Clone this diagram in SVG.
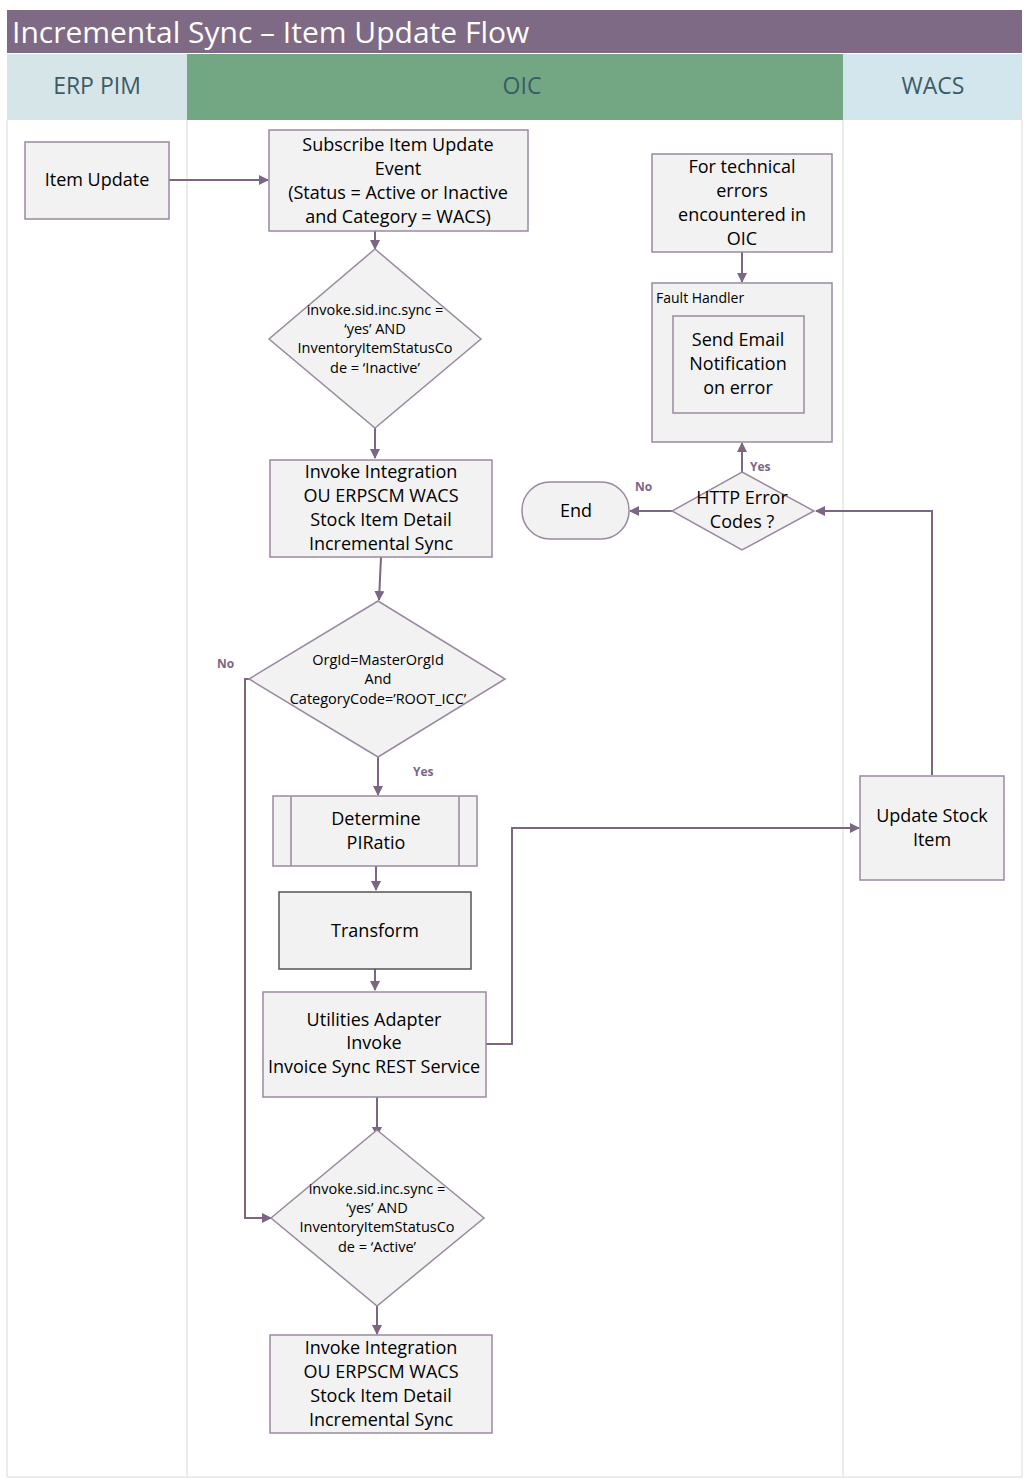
<svg xmlns="http://www.w3.org/2000/svg" width="1030" height="1479" viewBox="0 0 1030 1479">
<defs>
<marker id="ah" markerWidth="10" markerHeight="10" refX="9" refY="5" orient="auto" markerUnits="userSpaceOnUse"><path d="M0,0 L10,5 L0,10 z" fill="#7b6684"/></marker>
<style>
.n{fill:#f2f2f2;stroke:#9a8aa0;stroke-width:1.5}
.t{font-family:"Open Sans","Liberation Sans",sans-serif;font-size:18px;fill:#000;text-anchor:middle}
.s{font-family:"Open Sans","Liberation Sans",sans-serif;font-size:14.5px;fill:#000;text-anchor:middle}
.lb{font-family:"Open Sans","Liberation Sans",sans-serif;font-size:12px;fill:#7b6684;font-weight:bold}
.c{fill:none;stroke:#7b6684;stroke-width:2;marker-end:url(#ah)}
.h{font-family:"Open Sans","Liberation Sans",sans-serif;font-size:23px;fill:#3b5b66;text-anchor:middle}
</style>
</defs>
<rect width="1030" height="1479" fill="#fff"/>
<g id="lanes">
<rect x="7" y="10" width="1015" height="43" fill="#7e6a85"/>
<text x="12" y="43" font-family="Open Sans,Liberation Sans,sans-serif" font-size="30" fill="#fff">Incremental Sync – Item Update Flow</text>
<rect x="7" y="54" width="180" height="66" fill="#d6e5e7"/>
<rect x="187" y="54" width="656" height="66" fill="#73a783"/>
<rect x="843" y="54" width="179" height="66" fill="#d3e6ee"/>
<text class="h" x="97" y="94">ERP PIM</text>
<text class="h" x="522" y="94" fill="#2d3e33">OIC</text>
<text class="h" x="933" y="94">WACS</text>
<path d="M7,120 V1477 H1022 V120 M187,120 V1477 M843,120 V1477" fill="none" stroke="#d9d9d9" stroke-width="1"/>
</g>
<g id="connectors">
<path class="c" d="M169,180 H268"/>
<path class="c" d="M375,231 V249"/>
<path class="c" d="M375,428 V458"/>
<path class="c" d="M381,557 L379,600"/>
<path class="c" d="M378,757 V795"/>
<path class="c" d="M376,866 V890"/>
<path class="c" d="M375,969 V990"/>
<path class="c" d="M377,1097 V1136"/>
<path class="c" d="M377,1306 V1334"/>
<path class="c" d="M249,679 H245 V1218 H271"/>
<path class="c" d="M486,1044 H512 V828 H859"/>
<path class="c" d="M932,775 V511 H816"/>
<path class="c" d="M672,511 H630"/>
<path class="c" d="M742,472 V443"/>
<path class="c" d="M742,252 V282"/>
<text class="lb" x="217" y="668">No</text>
<text class="lb" x="413" y="776">Yes</text>
<text class="lb" x="635" y="491">No</text>
<text class="lb" x="750" y="471">Yes</text>
</g>
<g id="item-update"><rect class="n" x="25" y="142" width="144" height="77"/><text class="t" x="97" y="186">Item Update</text></g>
<g id="subscribe"><rect class="n" x="269" y="130" width="259" height="101"/>
<text class="t" x="398" y="151">Subscribe Item Update</text><text class="t" x="398" y="175">Event</text><text class="t" x="398" y="199">(Status = Active or Inactive</text><text class="t" x="398" y="223">and Category = WACS)</text></g>
<g id="dec1"><polygon class="n" points="375,249 481,339 375,428 269,339"/>
<text class="s" x="375" y="315">invoke.sid.inc.sync =</text><text class="s" x="375" y="334">‘yes’ AND</text><text class="s" x="375" y="353">InventoryItemStatusCo</text><text class="s" x="375" y="373">de = ‘Inactive’</text></g>
<g id="invoke1"><rect class="n" x="270" y="460" width="222" height="97"/>
<text class="t" x="381" y="478">Invoke Integration</text><text class="t" x="381" y="502">OU ERPSCM WACS</text><text class="t" x="381" y="526">Stock Item Detail</text><text class="t" x="381" y="550">Incremental Sync</text></g>
<g id="dec2"><polygon class="n" points="378,601 505,679 378,757 249,679"/>
<text class="s" x="378" y="665">OrgId=MasterOrgId</text><text class="s" x="378" y="684">And</text><text class="s" x="378" y="704">CategoryCode=’ROOT_ICC’</text></g>
<g id="determine"><rect class="n" x="273" y="796" width="204" height="70"/><path d="M291,796 V866 M459,796 V866" stroke="#9a8aa0" stroke-width="1.5"/>
<text class="t" x="376" y="825">Determine</text><text class="t" x="376" y="849">PIRatio</text></g>
<g id="transform"><rect x="279" y="892" width="192" height="77" fill="#f2f2f2" stroke="#555" stroke-width="1.5"/><text class="t" x="375" y="937">Transform</text></g>
<g id="utilities"><rect class="n" x="263" y="992" width="223" height="105"/>
<text class="t" x="374" y="1026">Utilities Adapter</text><text class="t" x="374" y="1049" font-size="16">Invoke</text><text class="t" x="374" y="1073" font-size="16">Invoice Sync REST Service</text></g>
<g id="dec3"><polygon class="n" points="377,1130 484,1218 377,1306 271,1218"/>
<text class="s" x="377" y="1194">invoke.sid.inc.sync =</text><text class="s" x="377" y="1213">‘yes’ AND</text><text class="s" x="377" y="1232">InventoryItemStatusCo</text><text class="s" x="377" y="1252">de = ‘Active’</text></g>
<g id="invoke2"><rect class="n" x="270" y="1335" width="222" height="98"/>
<text class="t" x="381" y="1354">Invoke Integration</text><text class="t" x="381" y="1378">OU ERPSCM WACS</text><text class="t" x="381" y="1402">Stock Item Detail</text><text class="t" x="381" y="1426">Incremental Sync</text></g>
<g id="tech-errors"><rect class="n" x="652" y="154" width="180" height="98"/>
<text class="t" x="742" y="173">For technical</text><text class="t" x="742" y="197">errors</text><text class="t" x="742" y="221">encountered in</text><text class="t" x="742" y="245">OIC</text></g>
<g id="fault-handler"><rect class="n" x="652" y="283" width="180" height="159"/>
<text x="656" y="303" font-family="Open Sans,Liberation Sans,sans-serif" font-size="14">Fault Handler</text>
<rect class="n" x="673" y="316" width="131" height="97"/>
<text class="t" x="738" y="346">Send Email</text><text class="t" x="738" y="370">Notification</text><text class="t" x="738" y="394">on error</text></g>
<g id="http"><polygon class="n" points="742,472 814,511 742,550 672,511"/>
<text class="t" x="742" y="504" font-size="17">HTTP Error</text><text class="t" x="742" y="528" font-size="17">Codes ?</text></g>
<g id="end"><rect class="n" x="522" y="482" width="107" height="57" rx="28"/><text class="t" x="576" y="517">End</text></g>
<g id="update-stock"><rect class="n" x="860" y="776" width="144" height="104"/>
<text class="t" x="932" y="822">Update Stock</text><text class="t" x="932" y="846">Item</text></g>
</svg>
